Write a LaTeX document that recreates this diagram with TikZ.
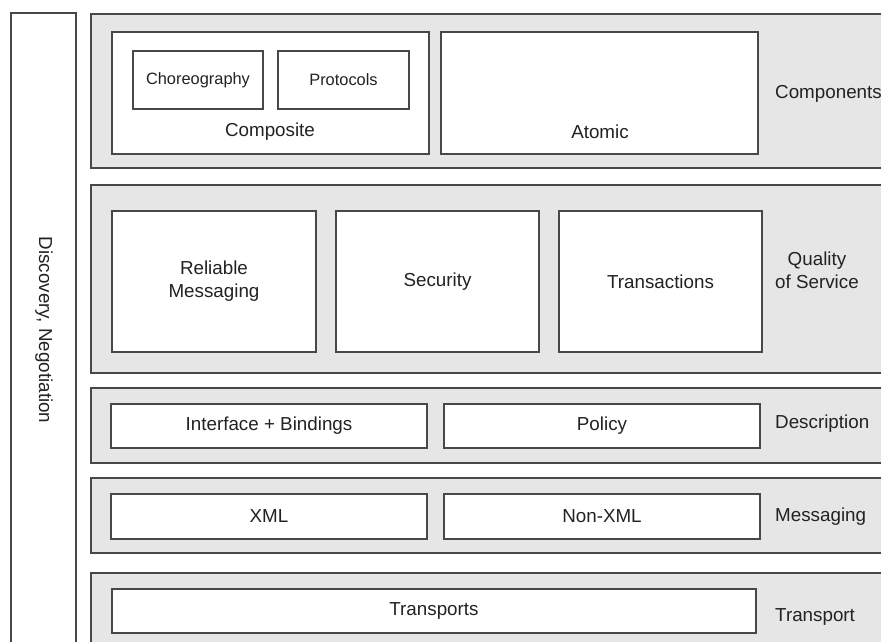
\documentclass[tikz,border=0pt]{standalone}
\usepackage{fontspec}
\setmainfont{Liberation Sans}
\definecolor{edge}{RGB}{72,72,72}
\definecolor{layerfill}{RGB}{230,230,230}
\definecolor{ink}{RGB}{34,34,34}
\begin{document}
\begin{tikzpicture}[x=1pt,y=-1pt,
  frame/.style={draw=edge, line width=1.6pt, inner sep=0pt, outer sep=0pt, anchor=north west,
                text=ink, align=center, font=\fontsize{18.8}{23}\selectfont},
  layer/.style={frame, fill=layerfill},
  cell/.style={frame, fill=white},
  smallcell/.style={cell, font=\fontsize{16.4}{20}\selectfont},
  lbl/.style={text=ink, font=\fontsize{18.8}{23}\selectfont, align=center, inner sep=0pt},
  side/.style={lbl, anchor=west, align=left}]
\useasboundingbox (0,0) rectangle (881,641);
\clip (0,0) rectangle (881,641);

% vertical cross-cutting column
\node[cell, minimum width=65pt, minimum height=650pt] (disc) at (11,13) {};
\node[lbl, rotate=-90] (disclbl) at (44,330) {Discovery, Negotiation};

% Components layer
\node[layer, minimum width=810pt, minimum height=154pt] (components) at (91,14) {};
\node[cell, minimum width=317pt, minimum height=122pt] (composite) at (112,32) {};
\node[smallcell, minimum width=130pt, minimum height=58pt] (choreo) at (133,51) {Choreography};
\node[smallcell, minimum width=131pt, minimum height=58pt] (protocols) at (278,51) {Protocols};
\node[lbl] (compositelbl) at (270,132) {Composite};
\node[cell, minimum width=317pt, minimum height=122pt] (atomic) at (441,32) {};
\node[lbl] (atomiclbl) at (600,132) {Atomic};
\node[side] (componentslbl) at (775,94) {Components};

% Quality of Service layer
\node[layer, minimum width=810pt, minimum height=188pt] (qos) at (91,185) {};
\node[cell, minimum width=204pt, minimum height=141pt] (reliable) at (112,211) {Reliable\\Messaging};
\node[cell, minimum width=203pt, minimum height=141pt] (security) at (336,211) {Security};
\node[cell, minimum width=203pt, minimum height=141pt] (transactions) at (559,211) {Transactions};
\node[lbl, anchor=west] (qoslbl) at (775,270) {Quality\\of Service};

% Description layer
\node[layer, minimum width=810pt, minimum height=75pt] (description) at (91,388) {};
\node[cell, minimum width=316pt, minimum height=44pt] (iface) at (111,404) {Interface + Bindings};
\node[cell, minimum width=316pt, minimum height=44pt] (policy) at (444,404) {Policy};
\node[side] (descriptionlbl) at (775,424) {Description};

% Messaging layer
\node[layer, minimum width=810pt, minimum height=75pt] (messaging) at (91,478) {};
\node[cell, minimum width=316pt, minimum height=45pt] (xml) at (111,494) {XML};
\node[cell, minimum width=316pt, minimum height=45pt] (nonxml) at (444,494) {Non-XML};
\node[side] (messaginglbl) at (775,517) {Messaging};

% Transport layer
\node[layer, minimum width=810pt, minimum height=100pt] (transport) at (91,573) {};
\node[cell, minimum width=644pt, minimum height=44pt] (transports) at (112,589) {Transports};
\node[side] (transportlbl) at (775,617) {Transport};
\end{tikzpicture}
\end{document}
